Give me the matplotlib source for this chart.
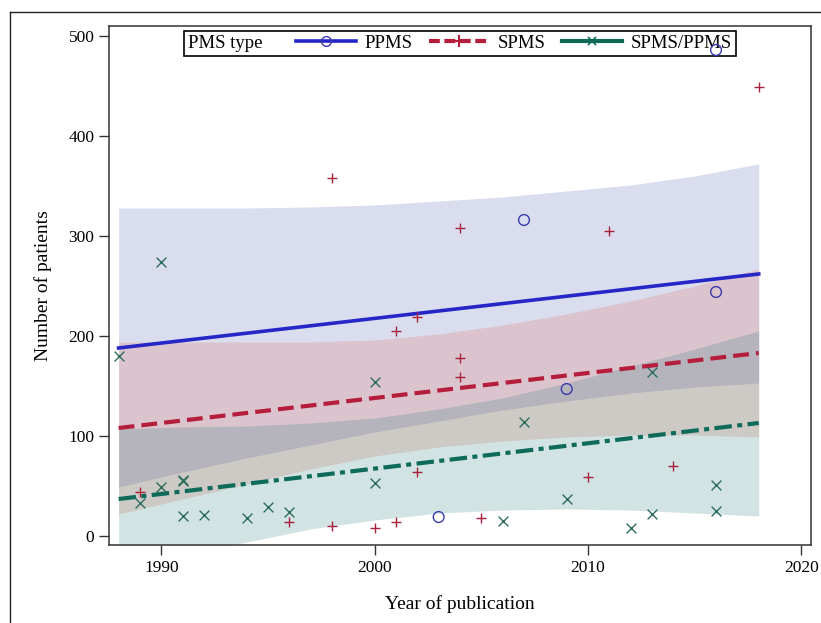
import matplotlib
matplotlib.use('Agg')
import matplotlib.pyplot as plt
from matplotlib.lines import Line2D
from matplotlib.offsetbox import HPacker

# observed studies, by PMS type
ppms_year = [2003, 2007, 2009, 2016, 2016]
ppms_n = [19, 316, 147, 244, 486]

spms_year = [1989, 1996, 1998, 1998, 2000, 2001, 2001, 2002, 2002, 2004, 2004, 2004,
             2005, 2010, 2011, 2014, 2018]
spms_n = [44, 14, 10, 358, 8, 14, 205, 64, 219, 159, 178, 308, 18, 59, 305, 70, 449]

mixed_year = [1988, 1989, 1990, 1990, 1991, 1991, 1991, 1992, 1994, 1995, 1996, 2000,
              2000, 2006, 2007, 2009, 2012, 2013, 2013, 2016, 2016]
mixed_n = [180, 33, 49, 274, 20, 55, 56, 21, 18, 29, 24, 53, 154, 15, 114, 37, 8, 22,
           164, 25, 51]

# fitted lines (start / end of the fitted range)
fit_year = [1988, 2018]
ppms_fit = [188, 262]
spms_fit = [108, 183]
mixed_fit = [37, 113]

# confidence bands
band_year = [1988, 1991, 1994, 1997, 2000, 2003, 2006, 2009, 2012, 2015, 2018]
ppms_hi = [328, 328, 328, 329, 331, 335, 339, 345, 351, 360, 372]
ppms_lo = [49, 64, 78, 91, 104, 115, 126, 135, 143, 149, 153]
spms_hi = [194, 194, 194, 194, 196, 202, 211, 222, 235, 250, 267]
spms_lo = [22, 37, 52, 67, 80, 89, 95, 99, 101, 101, 99]
mixed_hi = [107, 109, 110, 113, 118, 127, 138, 153, 170, 187, 205]
mixed_lo = [-33, -19, -6, 7, 16, 23, 26, 27, 26, 23, 20]

plt.rcParams['font.family'] = ['Liberation Serif', 'DejaVu Serif']

fig = plt.figure(figsize=(8.21, 6.23), dpi=100)
ax = fig.add_axes([0.1328, 0.1252, 0.855, 0.8331])

ax.fill_between(band_year, ppms_lo, ppms_hi, color='#4155AA', alpha=0.2, lw=0, zorder=1)
ax.fill_between(band_year, spms_lo, spms_hi, color='#E5604A', alpha=0.2, lw=0, zorder=1)
ax.fill_between(band_year, mixed_lo, mixed_hi, color='#1E7373', alpha=0.2, lw=0, zorder=1)

blue, red, green = '#2626C8', '#B41E3C', '#0E6B5A'

ax.plot(fit_year, ppms_fit, color=blue, lw=2.6, zorder=3)
ax.plot(fit_year, spms_fit, color=red, lw=3.0, dashes=(3.8, 1.7), zorder=3)
ax.plot(fit_year, mixed_fit, color=green, lw=3.0, dashes=(4.2, 1.3, 1.2, 1.3), zorder=3)

# points sit above the legend box, as in the original
ax.scatter(ppms_year, ppms_n, s=60, marker='o', facecolors='none',
           edgecolors='#3A3AAE', linewidths=1.0, zorder=6)
ax.scatter(spms_year, spms_n, s=60, marker='+', color='#A8203C', linewidths=1.0, zorder=6)
ax.scatter(mixed_year, mixed_n, s=50, marker='x', color='#2F6E5E', linewidths=1.0, zorder=6)

ax.set_xlim(1987.55, 2020.45)
ax.set_ylim(-9, 510)
ax.set_xticks([1990, 2000, 2010, 2020])
ax.set_yticks([0, 100, 200, 300, 400, 500])
ax.tick_params(direction='out', length=7, width=1, labelsize=12.5, color='#333333')
for s in ax.spines.values():
    s.set_color('#333333')
    s.set_linewidth(1.1)

ax.set_xlabel('Year of publication', fontsize=14, labelpad=14)
ax.set_ylabel('Number of patients', fontsize=14, labelpad=12)

handles = [
    Line2D([], [], color=blue, lw=2.6, marker='o', markersize=7,
           markerfacecolor='none', markeredgecolor='#3A3AAE', markeredgewidth=1.0),
    Line2D([], [], color=red, lw=3.0, dashes=(2.6, 1.1), marker='+', markersize=8,
           markeredgecolor=red, markeredgewidth=1.5),
    Line2D([], [], color=green, lw=3.0, marker='x', markersize=6,
           markeredgecolor=green, markeredgewidth=1.2),
]
leg = ax.legend(handles, ['PPMS', 'SPMS', 'SPMS/PPMS'], title='PMS type', ncol=3,
                loc='upper center', bbox_to_anchor=(0.5, 0.99), fontsize=13.5,
                title_fontsize=13.5, frameon=True, fancybox=False, edgecolor='black',
                framealpha=1, borderpad=0.2, handlelength=3.2, handletextpad=0.45,
                columnspacing=0.9, borderaxespad=0)
leg.get_frame().set_linewidth(1.2)
# put the legend title on the same row as the entries
leg._legend_box = HPacker(pad=0.2 * 13.5, sep=24, align='center',
                          children=[leg._legend_title_box, leg._legend_handle_box])
leg._legend_box.set_figure(fig)
leg._legend_box.axes = ax
leg._legend_box.set_offset(leg._findoffset)
leg.set_zorder(5)

# outer frame of the original figure
fig.add_artist(Line2D([10 / 821, 1], [1 - 12 / 623, 1 - 12 / 623], color='#222222', lw=1))
fig.add_artist(Line2D([10 / 821, 10 / 821], [0, 1 - 12 / 623], color='#222222', lw=1))

plt.savefig('out.png', dpi=100, facecolor='w')
